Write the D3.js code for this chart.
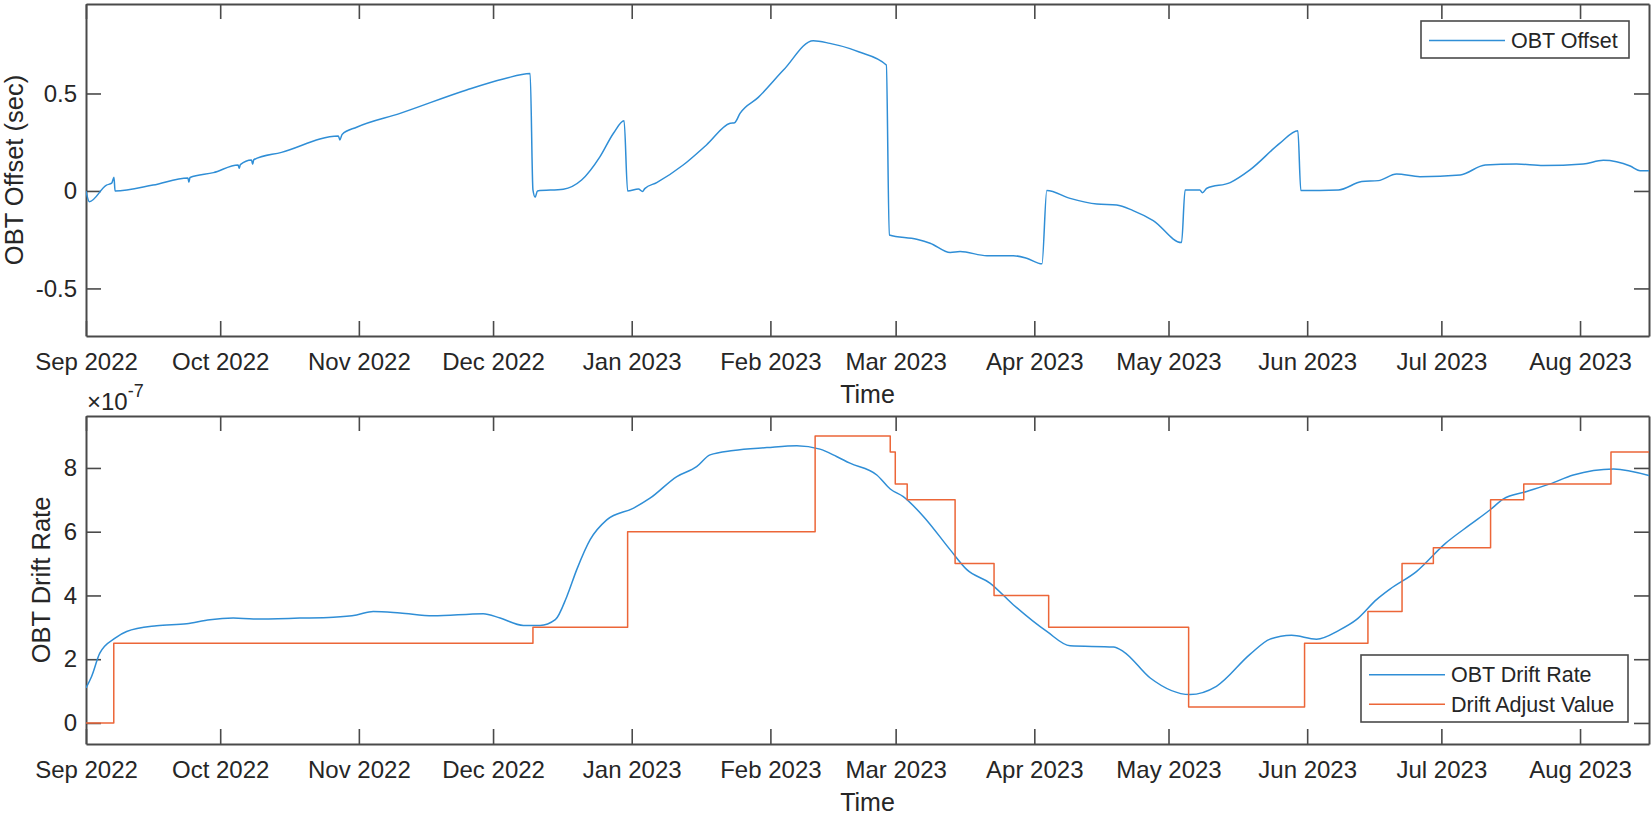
<!DOCTYPE html>
<html lang="en">
<head>
<meta charset="utf-8">
<script src="https://cdn.jsdelivr.net/npm/d3@7"></script>
<title>OBT Offset and Drift Rate</title>
<style>
  body { margin: 0; background: #fff; }
</style>
</head>
<body>
<script>
// ---- data ----
var xTickDates = ["2022-09-01", "2022-10-01", "2022-11-01", "2022-12-01", "2023-01-01", "2023-02-01",
                  "2023-03-01", "2023-04-01", "2023-05-01", "2023-06-01", "2023-07-01", "2023-08-01"];
var xTickLabels = ["Sep 2022", "Oct 2022", "Nov 2022", "Dec 2022", "Jan 2023", "Feb 2023",
                   "Mar 2023", "Apr 2023", "May 2023", "Jun 2023", "Jul 2023", "Aug 2023"];
var xStart = "2022-09-01 00:00";
var xEnd = "2023-08-16 10:00";

// OBT offset (sec)
var offsetTimes = [
  "2022-09-01 00:00", "2022-09-01 18:00", "2022-09-05 14:00", "2022-09-06 18:00", "2022-09-07 06:00", "2022-09-07 12:00",
  "2022-09-16 00:00", "2022-09-23 19:00", "2022-09-24 00:00", "2022-09-24 06:00", "2022-09-29 12:00",
  "2022-10-05 00:00", "2022-10-05 06:00", "2022-10-05 12:00", "2022-10-08 00:00", "2022-10-08 06:00", "2022-10-08 12:00",
  "2022-10-14 17:00", "2022-10-27 10:00", "2022-10-27 18:00", "2022-10-28 06:00", "2022-10-31 12:00",
  "2022-11-10 05:00", "2022-11-25 02:00", "2022-12-03 07:00", "2022-12-09 07:00", "2022-12-09 22:00",
  "2022-12-10 10:00", "2022-12-10 22:00", "2022-12-16 17:00", "2022-12-20 19:00", "2022-12-24 22:00",
  "2022-12-27 22:00", "2022-12-30 07:00", "2022-12-31 02:00", "2023-01-02 12:00", "2023-01-03 10:00",
  "2023-01-03 22:00", "2023-01-06 14:00", "2023-01-12 12:00", "2023-01-17 17:00", "2023-01-23 00:00",
  "2023-01-24 00:00", "2023-01-25 05:00", "2023-01-29 07:00", "2023-02-03 22:00", "2023-02-10 14:00",
  "2023-02-14 07:00", "2023-02-18 19:00", "2023-02-20 17:00", "2023-02-26 22:00", "2023-02-27 14:00",
  "2023-03-05 17:00", "2023-03-08 17:00", "2023-03-13 05:00", "2023-03-15 10:00", "2023-03-21 10:00",
  "2023-03-27 07:00", "2023-03-30 07:00", "2023-04-02 17:00", "2023-04-03 19:00", "2023-04-09 00:00",
  "2023-04-15 00:00", "2023-04-19 10:00", "2023-04-23 02:00", "2023-04-27 14:00", "2023-05-03 22:00",
  "2023-05-04 17:00", "2023-05-08 00:00", "2023-05-08 14:00", "2023-05-09 14:00", "2023-05-14 19:00",
  "2023-05-19 05:00", "2023-05-25 22:00", "2023-05-29 22:00", "2023-05-30 14:00", "2023-06-08 00:00",
  "2023-06-13 05:00", "2023-06-16 22:00", "2023-06-21 00:00", "2023-06-26 05:00", "2023-07-05 05:00",
  "2023-07-10 19:00", "2023-07-17 19:00", "2023-07-23 19:00", "2023-08-01 17:00", "2023-08-06 05:00",
  "2023-08-12 05:00", "2023-08-14 10:00", "2023-08-16 10:00"];
var offsetValues = [
  0.000, -0.055, 0.030, 0.040, 0.070, 0.000,
  0.030, 0.067, 0.045, 0.069, 0.094,
  0.133, 0.116, 0.135, 0.159, 0.137, 0.160,
  0.198, 0.282, 0.262, 0.290, 0.327,
  0.398, 0.518, 0.574, 0.603, 0.005,
  -0.032, 0.000, 0.009, 0.056, 0.176,
  0.296, 0.360, 0.000, 0.010, -0.003,
  0.012, 0.043, 0.133, 0.236, 0.347,
  0.350, 0.398, 0.480, 0.620, 0.771,
  0.757, 0.730, 0.714, 0.646, -0.226,
  -0.248, -0.268, -0.316, -0.311, -0.332,
  -0.332, -0.345, -0.374, 0.002, -0.038,
  -0.067, -0.072, -0.101, -0.152, -0.265,
  0.005, 0.005, -0.009, 0.014, 0.043,
  0.108, 0.245, 0.309, 0.002, 0.005,
  0.048, 0.053, 0.087, 0.073, 0.082,
  0.133, 0.138, 0.130, 0.138, 0.157,
  0.128, 0.104, 0.104];

// OBT drift rate (x 1e-7)
var rateTimes = [
  "2022-09-01 00:00", "2022-09-02 06:00", "2022-09-04 02:00", "2022-09-07 12:00", "2022-09-10 02:00",
  "2022-09-16 19:00", "2022-09-23 12:00", "2022-09-28 17:00", "2022-10-03 22:00", "2022-10-08 10:00",
  "2022-10-18 19:00", "2022-10-26 07:00", "2022-10-31 12:00", "2022-11-04 05:00", "2022-11-10 05:00",
  "2022-11-17 14:00", "2022-11-28 19:00", "2022-12-02 14:00", "2022-12-07 19:00", "2022-12-11 12:00",
  "2022-12-14 22:00", "2022-12-17 12:00", "2022-12-19 17:00", "2022-12-22 17:00", "2022-12-26 10:00",
  "2023-01-01 10:00", "2023-01-05 02:00", "2023-01-11 02:00", "2023-01-15 12:00", "2023-01-18 12:00",
  "2023-01-23 17:00", "2023-01-31 05:00", "2023-02-06 22:00", "2023-02-12 02:00", "2023-02-15 19:00",
  "2023-02-18 19:00", "2023-02-24 19:00", "2023-02-27 19:00", "2023-03-02 17:00", "2023-03-07 05:00",
  "2023-03-13 05:00", "2023-03-16 22:00", "2023-03-22 02:00", "2023-03-27 07:00", "2023-04-03 19:00",
  "2023-04-09 00:00", "2023-04-18 17:00", "2023-04-20 22:00", "2023-04-26 22:00", "2023-05-05 19:00",
  "2023-05-11 17:00", "2023-05-19 05:00", "2023-05-23 17:00", "2023-05-28 12:00", "2023-06-03 02:00",
  "2023-06-08 07:00", "2023-06-12 00:00", "2023-06-16 12:00", "2023-06-19 12:00", "2023-06-25 10:00",
  "2023-07-01 19:00", "2023-07-07 10:00", "2023-07-11 22:00", "2023-07-14 19:00", "2023-07-20 02:00",
  "2023-07-25 07:00", "2023-07-30 12:00", "2023-08-08 12:00", "2023-08-16 10:00"];
var rateValues = [
  1.10, 1.46, 2.19, 2.66, 2.87,
  3.05, 3.11, 3.24, 3.29, 3.26,
  3.29, 3.32, 3.39, 3.50, 3.45,
  3.36, 3.43, 3.29, 3.06, 3.06,
  3.24, 3.97, 4.81, 5.75, 6.37,
  6.74, 7.05, 7.73, 8.04, 8.41,
  8.55, 8.64, 8.70, 8.59, 8.36,
  8.15, 7.78, 7.34, 7.10, 6.48,
  5.43, 4.81, 4.39, 3.71, 2.87,
  2.42, 2.38, 2.24, 1.41, 0.89,
  1.15, 2.15, 2.63, 2.75, 2.63,
  2.92, 3.24, 3.87, 4.20, 4.75,
  5.62, 6.22, 6.69, 7.02, 7.26,
  7.50, 7.78, 7.97, 7.76];

// drift adjust value (x 1e-7), held from each date to the next
var adjustTimes = [
  "2022-09-01 00:00", "2022-09-07 05:00", "2022-12-09 22:00", "2022-12-31 02:00", "2023-02-11 00:00",
  "2023-02-27 19:00", "2023-02-28 22:00", "2023-03-03 14:00", "2023-03-14 07:00", "2023-03-23 00:00",
  "2023-04-04 05:00", "2023-05-05 12:00", "2023-05-31 10:00", "2023-06-14 14:00", "2023-06-22 05:00",
  "2023-06-29 05:00", "2023-07-12 00:00", "2023-07-19 10:00", "2023-08-07 22:00"];
var adjustValues = [
  0, 2.5, 3.0, 6.0, 9.0,
  8.5, 7.5, 7.0, 5.0, 4.0,
  3.0, 0.5, 2.5, 3.5, 5.0,
  5.5, 7.0, 7.5, 8.5];

var offsetYTicks = [-0.5, 0, 0.5];
var offsetYLabels = ["-0.5", "0", "0.5"];
var rateYTicks = [0, 2, 4, 6, 8];
var rateYLabels = ["0", "2", "4", "6", "8"];

// ---- layout ----
var w = 1652, h = 816;
var left = 86, right = 1649;
var font = "'Liberation Sans', Arial, sans-serif";
var blue = "#2f8ed6", orange = "#ec6638", axisGrey = "#4a4a4a", textCol = "#262626";

var parseT = d3.timeParse("%Y-%m-%d %H:%M");
var parseD = d3.timeParse("%Y-%m-%d");

var svg = d3.select("body").append("svg")
  .attr("width", w)
  .attr("height", h)
  .style("display", "block");

var x = d3.scaleTime()
  .domain([parseT(xStart), parseT(xEnd)])
  .range([left, right]);
var tickDates = xTickDates.map(parseD);

// draws one framed panel (box ticks inward on all sides) and returns its y scale
function panel(name, top, bottom, yDomain, yTicks, yLabels, yTitle, yTitleX) {
  var y = d3.scaleLinear().domain(yDomain).range([bottom, top]);

  svg.append("clipPath").attr("id", "clip-" + name)
    .append("rect")
    .attr("x", left).attr("y", top)
    .attr("width", right - left).attr("height", bottom - top);

  var axes = [
    { gen: d3.axisBottom(x).tickValues(tickDates).tickFormat(function(d, i) { return xTickLabels[i]; }).tickPadding(17),
      t: [0, bottom] },
    { gen: d3.axisTop(x).tickValues(tickDates).tickFormat(""), t: [0, top] },
    { gen: d3.axisLeft(y).tickValues(yTicks).tickFormat(function(d, i) { return yLabels[i]; }).tickPadding(9),
      t: [left, 0] },
    { gen: d3.axisRight(y).tickValues(yTicks).tickFormat(""), t: [right, 0] }
  ];
  axes.forEach(function(a) {
    var g = svg.append("g")
      .attr("transform", "translate(" + a.t + ")")
      .call(a.gen.tickSizeInner(-15).tickSizeOuter(0));
    g.attr("font-family", font).attr("font-size", 24);
    g.select(".domain").attr("stroke", axisGrey).attr("stroke-width", 2);
    g.selectAll(".tick line").attr("stroke", axisGrey).attr("stroke-width", 1.6);
    g.selectAll(".tick text").attr("fill", textCol);
  });

  // axis titles
  svg.append("text")
    .attr("transform", "translate(" + [yTitleX, (top + bottom) / 2] + ") rotate(-90)")
    .attr("text-anchor", "middle")
    .attr("font-family", font).attr("font-size", 25.5).attr("fill", textCol)
    .text(yTitle);
  svg.append("text")
    .attr("x", (left + right) / 2)
    .attr("y", bottom + 67)
    .attr("text-anchor", "middle")
    .attr("font-family", font).attr("font-size", 25).attr("fill", textCol)
    .text("Time");

  return y;
}

function series(times, values) {
  return times.map(function(t, i) { return { t: parseT(t), v: values[i] }; });
}

function drawLine(name, y, data, color, curve) {
  var line = d3.line()
    .x(function(d) { return x(d.t); })
    .y(function(d) { return y(d.v); })
    .curve(curve || d3.curveMonotoneX);
  svg.append("path")
    .datum(data)
    .attr("clip-path", "url(#clip-" + name + ")")
    .attr("fill", "none")
    .attr("stroke", color)
    .attr("stroke-width", 1.5)
    .attr("stroke-linejoin", "round")
    .attr("d", line);
}

function legend(x0, y0, bw, rowH, entries) {
  var g = svg.append("g").attr("transform", "translate(" + [x0, y0] + ")");
  g.append("rect")
    .attr("width", bw)
    .attr("height", rowH * entries.length + 8)
    .attr("fill", "#fff")
    .attr("stroke", axisGrey)
    .attr("stroke-width", 1.6);
  entries.forEach(function(e, i) {
    var cy = 4 + rowH * (i + 0.5) + 1;
    g.append("line")
      .attr("x1", 8).attr("x2", 84)
      .attr("y1", cy).attr("y2", cy)
      .attr("stroke", e.color).attr("stroke-width", 1.5);
    g.append("text")
      .attr("x", 90).attr("y", cy)
      .attr("dy", "0.36em")
      .attr("font-family", font).attr("font-size", 21.5).attr("fill", textCol)
      .text(e.label);
  });
}

// top panel: OBT offset
var yTop = panel("top", 4, 336, [-0.744, 0.959], offsetYTicks, offsetYLabels, "OBT Offset (sec)", 23);
drawLine("top", yTop, series(offsetTimes, offsetValues), blue);

// bottom panel: drift rate and adjust value
var yBot = panel("bot", 416, 744, [-0.66, 9.63], rateYTicks, rateYLabels, "OBT Drift Rate", 50);
drawLine("bot", yBot, series(rateTimes, rateValues), blue);
var adjust = series(adjustTimes, adjustValues);
adjust.push({ t: parseT(xEnd), v: adjustValues[adjustValues.length - 1] });
drawLine("bot", yBot, adjust, orange, d3.curveStepAfter);

// exponent label of the lower y axis
var expo = svg.append("text")
  .attr("x", left + 1).attr("y", 410)
  .attr("font-family", font).attr("fill", textCol);
expo.append("tspan").attr("font-size", 24).text("\u00d710");
expo.append("tspan").attr("font-size", 18).attr("dy", -13).text("-7");

legend(1421, 21, 208, 29, [{ label: "OBT Offset", color: blue }]);
legend(1361, 655, 267, 29.5, [
  { label: "OBT Drift Rate", color: blue },
  { label: "Drift Adjust Value", color: orange }
]);
</script>
</body>
</html>
